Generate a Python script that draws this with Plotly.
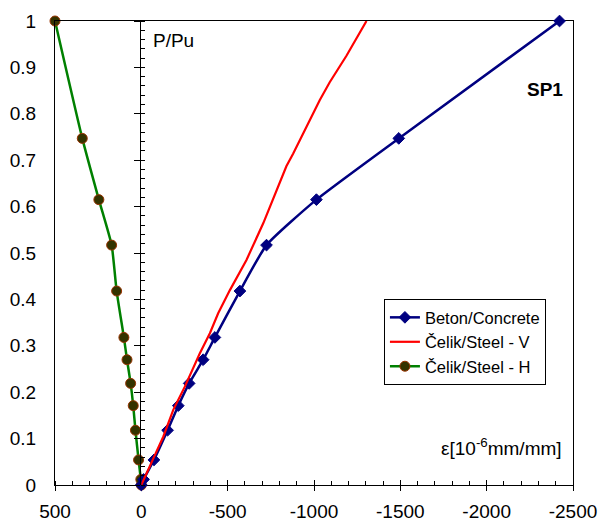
import plotly.graph_objects as go

# Load ratio P/Pu at each recorded load step
load_levels = [0.0, 0.012, 0.054, 0.118, 0.171, 0.219, 0.270, 0.318,
               0.418, 0.517, 0.615, 0.747, 1.0]

# Concrete strain [1e-6 mm/mm] at each load step
concrete_strain = [0, -13, -73, -152, -214, -277, -358, -426,
                   -571, -725, -1014, -1491, -2422]

# Horizontal steel strain at each load step
steel_h_strain = [0, 3, 16, 34, 47, 62, 83, 101,
                  143, 172, 246, 342, 500]

# Vertical steel gauge (continuous record)
steel_v_strain = [0, -21, -73, -127, -185, -252, -339, -397, -445, -513,
                  -609, -706, -783, -840, -879, -918, -976, -1033, -1091,
                  -1188, -1304]
steel_v_load = [0.0, 0.018, 0.060, 0.104, 0.162, 0.212, 0.284, 0.327, 0.370,
                0.420, 0.485, 0.564, 0.635, 0.687, 0.714, 0.743, 0.786,
                0.829, 0.868, 0.925, 1.0]

# Axis ticks
x_tick_values = [500, 0, -500, -1000, -1500, -2000, -2500]
x_tick_labels = ["500", "0", "-500", "-1000", "-1500", "-2000", "-2500"]

x_range = [500, -2500]
y_range = [0, 1]

FONT = "Liberation Sans, Arial, sans-serif"

# fraction of the plot width where strain = 0 (the P/Pu axis sits there)
zero_pos = (x_range[0] - 0) / (x_range[0] - x_range[1])
# compressive half of the strain axis, mapped onto [zero_pos, 1]
x_range_neg = [0, x_range[1]]

fig = go.Figure()

# compressive gauges live on axes that start at zero strain, so the
# P/Pu axis (with its ticks) is drawn along that line
fig.add_trace(go.Scatter(
    x=concrete_strain, y=load_levels, name="Beton/Concrete",
    mode="lines+markers", xaxis="x2", yaxis="y2", cliponaxis=False,
    line=dict(color="#000080", width=2.5, shape="spline", smoothing=0.5),
    marker=dict(symbol="diamond", size=9, color="#000080",
                line=dict(color="#000080", width=1)),
))
fig.add_trace(go.Scatter(
    x=steel_v_strain, y=steel_v_load, name="Čelik/Steel - V",
    mode="lines", xaxis="x3", yaxis="y3", cliponaxis=False,
    line=dict(color="#FF0000", width=2.2),
))
fig.add_trace(go.Scatter(
    x=steel_h_strain, y=load_levels, name="Čelik/Steel - H",
    mode="lines+markers", xaxis="x", yaxis="y", cliponaxis=False,
    line=dict(color="#008000", width=2.5, shape="spline", smoothing=0.5),
    marker=dict(symbol="circle", size=10, color="#333300",
                line=dict(color="#993300", width=1)),
))

hidden = dict(showline=False, showticklabels=False, ticks="",
              showgrid=False, zeroline=False, automargin=False)

fig.update_layout(
    width=602, height=522,
    margin=dict(l=55, r=29, t=21, b=37, autoexpand=False),
    paper_bgcolor="white", plot_bgcolor="rgba(0,0,0,0)",
    font=dict(family=FONT, color="black"),
    showlegend=True,
    legend=dict(
        x=0.635, y=0.4006, xanchor="left", yanchor="top",
        bordercolor="black", borderwidth=1, bgcolor="white",
        font=dict(family=FONT, size=16.5, color="black"),
        tracegroupgap=0,
    ),
    # main strain axis (bottom) with the plot frame
    xaxis=dict(
        range=x_range, tickmode="array",
        tickvals=x_tick_values, ticktext=x_tick_labels,
        ticks="outside", ticklen=5, tickcolor="black", tickwidth=1,
        minor=dict(ticks="inside", ticklen=4, dtick=100, tick0=0,
                   tickcolor="black"),
        showline=True, linecolor="black", linewidth=1, mirror=True,
        showgrid=False, zeroline=False, automargin=False,
        ticklabelstandoff=4,
        tickfont=dict(family=FONT, size=19, color="black"),
    ),
    yaxis=dict(
        range=y_range, dtick=0.1, tick0=0, ticks="",
        showline=True, linecolor="black", linewidth=1, mirror=True,
        showgrid=False, zeroline=False, ticklabelstandoff=14,
        automargin=False,
        tickfont=dict(family=FONT, size=19, color="black"),
    ),
    # P/Pu axis at zero strain: major ticks to the left, minor to the right;
    # its x partner adds the upward half of the major strain ticks
    xaxis2=dict(
        domain=[zero_pos, 1], anchor="y2", range=x_range_neg,
        tickmode="array", tickvals=x_tick_values,
        ticks="inside", ticklen=5, tickcolor="black",
        showline=False, showticklabels=False, showgrid=False, zeroline=False,
        automargin=False,
    ),
    yaxis2=dict(
        anchor="x2", side="left", range=y_range,
        dtick=0.1, tick0=0, ticks="outside", ticklen=6, tickcolor="black",
        minor=dict(ticks="inside", ticklen=4, dtick=0.02, tick0=0,
                   tickcolor="black"),
        showline=True, linecolor="black", linewidth=1,
        showticklabels=False, showgrid=False, zeroline=False,
        automargin=False,
    ),
    # right-hand half of the major ticks on the P/Pu axis
    xaxis3=dict(domain=[zero_pos, 1], anchor="y3", range=x_range_neg,
                **hidden),
    yaxis3=dict(
        anchor="x3", side="left", range=y_range,
        dtick=0.1, tick0=0, ticks="inside", ticklen=4, tickcolor="black",
        showline=False, showticklabels=False, showgrid=False, zeroline=False,
        automargin=False,
    ),
    annotations=[
        dict(text="P/Pu", xref="paper", yref="paper", x=0.185, y=0.958,
             xanchor="left", yanchor="middle", showarrow=False,
             font=dict(family=FONT, size=19, color="black")),
        dict(text="<b>SP1</b>", xref="paper", yref="paper", x=0.984, y=0.853,
             xanchor="right", yanchor="middle", showarrow=False,
             font=dict(family=FONT, size=19, color="black")),
        dict(text="ε[10<sup>-6</sup>mm/mm]", xref="paper", yref="paper",
             x=0.982, y=0.082, xanchor="right", yanchor="middle",
             showarrow=False,
             font=dict(family=FONT, size=19, color="black")),
    ],
)

fig.write_html("out.html")
